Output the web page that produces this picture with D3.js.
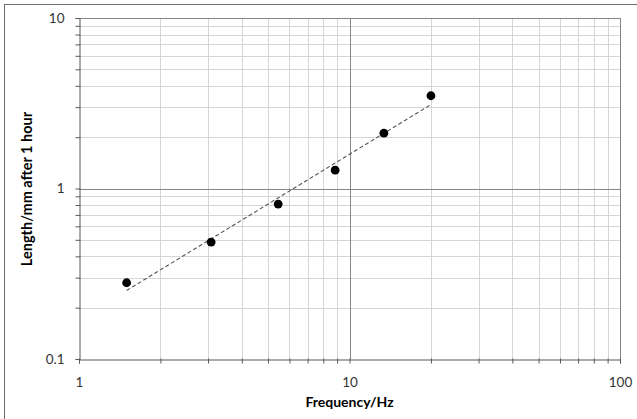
<!DOCTYPE html>
<html><head><meta charset="utf-8">
<script src="https://cdn.jsdelivr.net/npm/d3@7"></script>
<style>
html,body{margin:0;padding:0;background:#fff;}
svg{display:block;}
text{font-family:Lato,"Open Sans",sans-serif;}
</style></head>
<body>
<svg id="chart" width="637" height="419"></svg>
<script>
const frequency = [1.5, 3.08, 5.45, 8.85, 13.4, 20];
const lengthMm = [0.28, 0.485, 0.81, 1.28, 2.11, 3.5];
const xTicks = [1, 10, 100];
const yTicks = [0.1, 1, 10];
const xLabel = "Frequency/Hz";
const yLabel = "Length/mm after 1 hour";

const W = 637, H = 419;
const m = {left: 79, right: 17, top: 18, bottom: 60};
const svg = d3.select("#chart");

svg.append("rect").attr("x",4.5).attr("y",4.5).attr("width",W+10).attr("height",H+10)
  .attr("fill","#fff").attr("stroke","#6e6e6e").attr("stroke-width",1);

const x = d3.scaleLog().domain([1,100]).range([m.left, W-m.right]);
const y = d3.scaleLog().domain([0.1,10]).range([H-m.bottom, m.top]);

function minorVals(lo, hi){
  const out=[];
  for(let d=lo; d<hi; d*=10){ for(let k=2;k<=9;k++) out.push(d*k); }
  return out;
}
const xMinor = minorVals(1,100), yMinor = minorVals(0.1,10);

const g = svg.append("g");
// minor grid
g.selectAll(".xm").data(xMinor).enter().append("line")
  .attr("x1",d=>Math.round(x(d))+0.5).attr("x2",d=>Math.round(x(d))+0.5)
  .attr("y1",y(0.1)).attr("y2",y(10)).attr("stroke","#d6d6d6");
g.selectAll(".ym").data(yMinor).enter().append("line")
  .attr("y1",d=>Math.round(y(d))+0.5).attr("y2",d=>Math.round(y(d))+0.5)
  .attr("x1",x(1)).attr("x2",x(100)).attr("stroke","#d6d6d6");
// major grid
g.selectAll(".xM").data(xTicks.slice(1)).enter().append("line")
  .attr("x1",d=>Math.round(x(d))+0.5).attr("x2",d=>Math.round(x(d))+0.5)
  .attr("y1",y(0.1)).attr("y2",y(10)).attr("stroke","#868686");
g.selectAll(".yM").data(yTicks.slice(1)).enter().append("line")
  .attr("y1",d=>Math.round(y(d))+0.5).attr("y2",d=>Math.round(y(d))+0.5)
  .attr("x1",x(1)).attr("x2",x(100)).attr("stroke","#868686");

// axes
const allX = xTicks.concat(xMinor), allY = yTicks.concat(yMinor);
const xAxis = svg.append("g").attr("transform",`translate(0,${Math.round(y(0.1))+0.5})`)
  .call(d3.axisBottom(x).tickValues(allX).tickSize(4).tickFormat(d=>xTicks.includes(d)?d3.format("~g")(d):""));
const yAxis = svg.append("g").attr("transform",`translate(${Math.round(x(1))+0.5},0)`)
  .call(d3.axisLeft(y).tickValues(allY).tickSize(4).tickFormat(d=>yTicks.includes(d)?d3.format("~g")(d):""));
[xAxis,yAxis].forEach(a=>{
  a.select(".domain").attr("stroke","#595959");
  a.selectAll(".tick line").attr("stroke","#595959");
  a.selectAll(".tick text").attr("fill","#333").style("font-size","13.5px").style("font-family","Lato,sans-serif");
});
xAxis.selectAll(".tick text").attr("dy","1.5em");
xAxis.selectAll(".tick line").attr("y1",-1);
yAxis.selectAll(".tick text").attr("x",-15);
yAxis.selectAll(".tick line").attr("x1",1);

// trendline (power fit)
const lx = frequency.map(Math.log10), ly = lengthMm.map(Math.log10);
const mx = d3.mean(lx), my = d3.mean(ly);
const slope = d3.sum(lx.map((v,i)=>(v-mx)*(ly[i]-my)))/d3.sum(lx.map(v=>(v-mx)**2));
const icpt = my - slope*mx;
const f = v => Math.pow(10, icpt + slope*Math.log10(v));
const x0 = d3.min(frequency), x1 = d3.max(frequency);
svg.append("line").attr("x1",x(x0)).attr("y1",y(f(x0))).attr("x2",x(x1)).attr("y2",y(f(x1)))
  .attr("stroke","#555").attr("stroke-width",1.1).attr("stroke-dasharray","4,2.5");

// points
svg.selectAll(".pt").data(frequency).enter().append("circle")
  .attr("cx",(d)=>x(d)).attr("cy",(d,i)=>y(lengthMm[i])).attr("r",4.4).attr("fill","#000");

// labels
svg.append("text").attr("x",x(10)).attr("y",407).attr("text-anchor","middle")
  .style("font-size","14px").style("font-weight","bold").attr("fill","#000").text(xLabel);
svg.append("text").attr("transform",`translate(32,189) rotate(-90)`).attr("text-anchor","middle")
  .style("font-size","14.5px").style("font-weight","bold").attr("fill","#000").text(yLabel);
</script>
</body></html>
